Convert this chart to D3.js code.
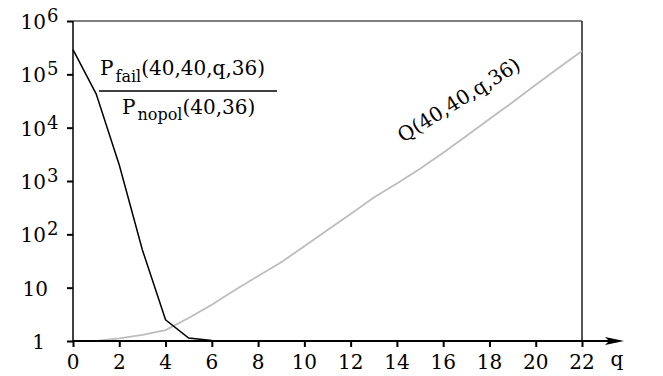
<!DOCTYPE html>
<html>
<head>
<meta charset="utf-8">
<script src="https://cdn.jsdelivr.net/npm/d3@7"></script>
<style>
  body { margin: 0; background: #fff; }
</style>
</head>
<body>
<svg id="chart"></svg>
<script>
// q values along the x axis
const qValues = [0, 1, 2, 3, 4, 5, 6, 7, 8, 9, 10, 11, 12, 13, 14, 15, 16, 17, 18, 19, 20, 21, 22];
// Pfail(40,40,q,36) / Pnopol(40,36)
const failRatio = [290000, 43000, 2000, 51, 2.5, 1.14, 1.02, 1, 1, 1, 1, 1, 1, 1, 1, 1, 1, 1, 1, 1, 1, 1, 1];
// Q(40,40,q,36)
const qCurve = [1, 1, 1.12, 1.3, 1.6, 2.7, 4.8, 9, 16.6, 30, 60, 120, 240, 490, 900, 1700, 3400, 7000, 14500, 30000, 64000, 133000, 275000];
const xTicks = [0, 2, 4, 6, 8, 10, 12, 14, 16, 18, 20, 22];
const yTicks = [1, 10, 100, 1000, 10000, 100000, 1000000];

(function() {
  const svgDim = {w: 663, h: 376},
    $svg = d3.select('#chart').attr('width', svgDim.w).attr('height', svgDim.h);

  const xScale = d3.scaleLinear().domain([0, 22]).range([73, 582]),
    yScale = d3.scaleLog().domain([1, 1e6]).range([341, 21]);

  const addText = ($parent, size) => $parent.append('text')
    .attr('font-family', 'DejaVu Serif')
    .attr('font-size', size);

  // frame: top and right
  $svg.append('line')
    .attr('x1', xScale(0)).attr('x2', xScale(22))
    .attr('y1', yScale(1e6)).attr('y2', yScale(1e6))
    .attr('stroke', '#555').attr('stroke-width', 1.5);
  $svg.append('line')
    .attr('x1', xScale(22)).attr('x2', xScale(22))
    .attr('y1', yScale(1e6)).attr('y2', yScale(1))
    .attr('stroke', '#555').attr('stroke-width', 2);

  // curves
  const line = d3.line().x((d) => xScale(d[0])).y((d) => yScale(d[1]));
  $svg.append('path')
    .datum(qValues.map((q, i) => [q, qCurve[i]]))
    .attr('d', line)
    .attr('fill', 'none').attr('stroke', '#bdbdbd').attr('stroke-width', 1.8);
  $svg.append('path')
    .datum(qValues.map((q, i) => [q, failRatio[i]]))
    .attr('d', line)
    .attr('fill', 'none').attr('stroke', '#000').attr('stroke-width', 1.5);

  // y axis
  const $yAxis = $svg.append('g').attr('transform', 'translate(' + xScale(0) + ',0)');
  $yAxis.call(d3.axisLeft(yScale).tickValues(yTicks).tickSize(6).tickFormat(''));
  $yAxis.select('.domain').attr('d', 'M0,' + yScale(1e6) + 'V' + yScale(1)).attr('stroke-width', 1.5);
  $yAxis.selectAll('.tick line').attr('stroke-width', 2);

  yTicks.forEach((v) => {
    const exp = Math.round(Math.log10(v)),
      y = yScale(v);
    if (exp <= 1) {
      addText($svg, 20)
        .attr('x', exp == 0 ? 45 : 48).attr('y', y + 8)
        .attr('text-anchor', 'end')
        .text(exp == 0 ? '1' : '10');
    } else {
      addText($svg, 20)
        .attr('x', 46).attr('y', y + 8)
        .attr('text-anchor', 'end')
        .text('10');
      addText($svg, 18)
        .attr('x', 47).attr('y', y + 1)
        .text(exp);
    }
  });

  // x axis with arrow
  const $xAxis = $svg.append('g').attr('transform', 'translate(0,' + yScale(1) + ')');
  $xAxis.call(d3.axisBottom(xScale).tickValues(xTicks).tickSize(6).tickFormat(''));
  $xAxis.select('.domain').attr('d', 'M' + xScale(0) + ',0H610').attr('stroke-width', 2.2);
  $xAxis.selectAll('.tick line').attr('stroke-width', 2);
  $svg.append('path')
    .attr('d', 'M624,' + yScale(1) + 'L605,' + (yScale(1) - 4) + 'L609,' + yScale(1) + 'L605,' + (yScale(1) + 4) + 'Z')
    .attr('fill', '#000');
  xTicks.forEach((d) => {
    addText($svg, 20)
      .attr('x', xScale(d)).attr('y', 369)
      .attr('text-anchor', 'middle')
      .text(d);
  });
  addText($svg, 20)
    .attr('x', 617).attr('y', 366)
    .attr('text-anchor', 'middle')
    .text('q');

  // fraction label
  const $num = addText($svg, 20).attr('x', 100).attr('y', 75);
  $num.append('tspan').text('P');
  $num.append('tspan').attr('dx', 2).attr('dy', 7).attr('font-size', 16).text('fail');
  $num.append('tspan').attr('dy', -7).text('(40,40,q,36)');
  $svg.append('line')
    .attr('x1', 99).attr('x2', 277).attr('y1', 91).attr('y2', 91)
    .attr('stroke', '#000').attr('stroke-width', 1.6);
  const $den = addText($svg, 20).attr('x', 122).attr('y', 114);
  $den.append('tspan').text('P');
  $den.append('tspan').attr('dx', 2).attr('dy', 6).attr('font-size', 16).text('nopol');
  $den.append('tspan').attr('dy', -6).text('(40,36)');

  // Q label along the curve
  addText($svg, 20)
    .attr('transform', 'translate(403,143) rotate(-32)')
    .text('Q(40,40,q,36)');
})();
</script>
</body>
</html>
